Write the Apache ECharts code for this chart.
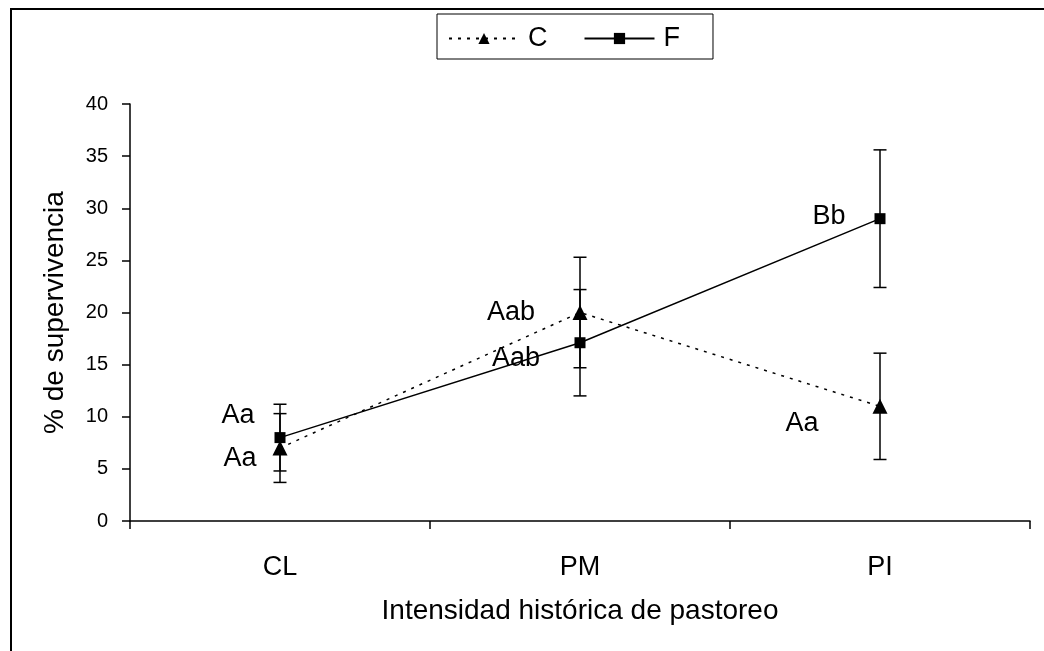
<!DOCTYPE html>
<html>
<head>
<meta charset="utf-8">
<script src="https://cdn.jsdelivr.net/npm/echarts@6/dist/echarts.min.js"></script>
<style>
  html, body { margin: 0; padding: 0; background: #fff; }
  #chart { width: 1044px; height: 651px; }
</style>
</head>
<body>
<div id="chart"></div>
<script>
// Survival (%) by historical grazing intensity, two treatments
const categories = ['CL', 'PM', 'PI'];
const seriesNames = ['C', 'F'];
const cMeans = [7.0, 20.0, 11.0];
const cErr = [3.3, 5.3, 5.1];
const fMeans = [8.0, 17.1, 29.0];
const fErr = [3.2, 5.1, 6.6];
const cLetters = ['Aa', 'Aab', 'Aa'];
const fLetters = ['Aa', 'Aab', 'Bb'];
const yTicks = [0, 5, 10, 15, 20, 25, 30, 35, 40];

const FONT = '"Liberation Sans", Arial, sans-serif';

// letter placement relative to each point
const cLabelOffsets = [[-40, 11], [-69, 0], [-78, 17]];
const fLabelOffsets = [[-42, -22], [-64, 16], [-51, -2]];

function pointsWithLetters(means, letters, offsets) {
  return means.map((v, i) => ({
    value: v,
    label: { show: true, formatter: letters[i], offset: offsets[i] }
  }));
}

function errorRows(means, errs) {
  return means.map((m, i) => [i, m - errs[i], m + errs[i]]);
}

function renderErrorBar(params, api) {
  const x = api.value(0);
  const lo = api.coord([x, api.value(1)]);
  const hi = api.coord([x, api.value(2)]);
  const half = 6.5;
  const style = { stroke: '#000', lineWidth: 1.5 };
  return {
    type: 'group',
    children: [
      { type: 'line', shape: { x1: lo[0], y1: lo[1], x2: hi[0], y2: hi[1] }, style },
      { type: 'line', shape: { x1: hi[0] - half, y1: hi[1], x2: hi[0] + half, y2: hi[1] }, style },
      { type: 'line', shape: { x1: lo[0] - half, y1: lo[1], x2: lo[0] + half, y2: lo[1] }, style }
    ]
  };
}

const chart = echarts.init(document.getElementById('chart'), null, { renderer: 'canvas' });

const letterLabel = {
  position: 'inside',
  color: '#000',
  fontFamily: FONT,
  fontSize: 27
};

chart.setOption({
  animation: false,
  backgroundColor: '#fff',
  textStyle: { fontFamily: FONT, color: '#000' },
  graphic: [{
    type: 'rect',
    shape: { x: 11, y: 9, width: 1200, height: 800 },
    style: { fill: 'none', stroke: '#000', lineWidth: 2 },
    z: 100
  }],
  legend: {
    left: 437,
    top: 14,
    orient: 'horizontal',
    data: seriesNames,
    itemWidth: 70,
    itemHeight: 14,
    itemGap: 36,
    padding: [11, 33, 7, 11],
    borderColor: '#000',
    borderWidth: 1,
    textStyle: { fontFamily: FONT, fontSize: 27, color: '#000', padding: [0, 0, 0, 4] }
  },
  grid: { left: 130, right: 14, top: 104, bottom: 130, containLabel: false },
  xAxis: {
    type: 'category',
    data: categories,
    boundaryGap: true,
    name: 'Intensidad histórica de pastoreo',
    nameLocation: 'middle',
    nameGap: 76,
    nameTextStyle: { fontFamily: FONT, fontSize: 28, color: '#000' },
    axisLine: { lineStyle: { color: '#000', width: 1.5 } },
    axisTick: { show: true, length: 8, inside: false, alignWithLabel: false, lineStyle: { color: '#000', width: 1.5 } },
    axisLabel: { fontFamily: FONT, fontSize: 27, color: '#000', margin: 33 },
    splitLine: { show: false }
  },
  yAxis: {
    type: 'value',
    min: yTicks[0],
    max: yTicks[yTicks.length - 1],
    interval: yTicks[1] - yTicks[0],
    name: '% de supervivencia',
    nameLocation: 'middle',
    nameGap: 61,
    nameTextStyle: { fontFamily: FONT, fontSize: 28, color: '#000' },
    axisLine: { show: true, lineStyle: { color: '#000', width: 1.5 } },
    axisTick: { show: true, length: 8, inside: false, lineStyle: { color: '#000', width: 1.5 } },
    axisLabel: { fontFamily: FONT, fontSize: 20, color: '#000', margin: 22 },
    splitLine: { show: false }
  },
  series: [
    {
      name: 'C',
      type: 'line',
      data: pointsWithLetters(cMeans, cLetters, cLabelOffsets),
      symbol: 'triangle',
      symbolSize: 15,
      itemStyle: { color: '#000' },
      lineStyle: { color: '#000', width: 1.5, type: [3, 6] },
      label: letterLabel,
      z: 4
    },
    {
      name: 'F',
      type: 'line',
      data: pointsWithLetters(fMeans, fLetters, fLabelOffsets),
      symbol: 'rect',
      symbolSize: 11,
      itemStyle: { color: '#000' },
      lineStyle: { color: '#000', width: 1.5, type: 'solid' },
      label: letterLabel,
      z: 4
    },
    {
      type: 'custom',
      renderItem: renderErrorBar,
      data: errorRows(cMeans, cErr),
      encode: { x: 0, y: [1, 2] },
      silent: true,
      z: 3
    },
    {
      type: 'custom',
      renderItem: renderErrorBar,
      data: errorRows(fMeans, fErr),
      encode: { x: 0, y: [1, 2] },
      silent: true,
      z: 3
    }
  ]
});
</script>
</body>
</html>
